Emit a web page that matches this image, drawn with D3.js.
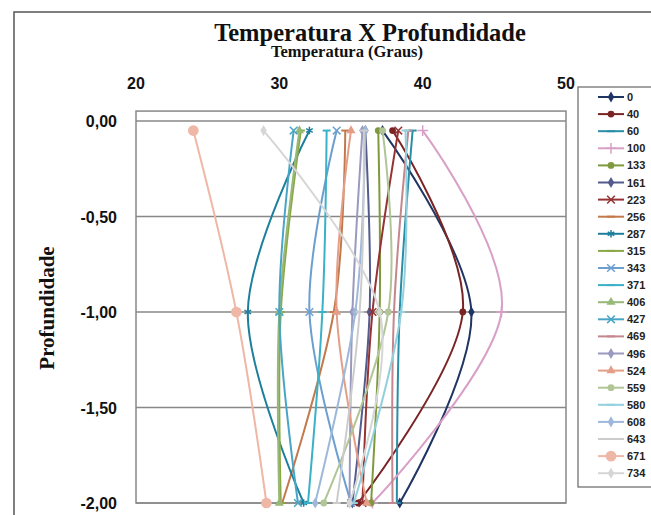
<!DOCTYPE html>
<meta charset='utf-8'>
<style>
  body { margin: 0; background: #fff; }
  .tick-lbl { font-family: "Liberation Sans", Arial, sans-serif; font-weight: bold; font-size: 16px; fill: #111; }
  .ttl { font-family: "Liberation Serif", "DejaVu Serif", serif; font-weight: bold; fill: #111; }
  .leg { font-family: "Liberation Sans", Arial, sans-serif; font-weight: bold; font-size: 11px; fill: #222; }
</style>
<svg width="651" height="515"></svg>
<script src="https://cdnjs.cloudflare.com/ajax/libs/d3/7.8.5/d3.min.js"></script>
<script>

// depth of the three readings (m)
var depths = [-0.05, -1.00, -2.00];

// series names (legend)
var names = ["0","40","60","100","133","161","223","256","287","315","343","371",
             "406","427","469","496","524","559","580","608","643","671","734"];

// temperature at each depth, per series
var temps = [
  [37.2, 43.4, 38.4],
  [37.9, 42.8, 35.5],
  [39.3, 38.4, 38.2],
  [40.0, 45.5, 36.5],
  [36.9, 37.0, 36.4],
  [36.0, 36.3, 35.1],
  [38.3, 36.5, 35.8],
  [34.6, 33.8, 30.2],
  [32.1, 27.8, 31.7],
  [31.5, 30.1, 30.1],
  [34.0, 32.1, 35.0],
  [33.3, 33.0, 32.0],
  [31.4, 30.0, 30.0],
  [31.0, 30.0, 31.3],
  [39.0, 38.0, 37.9],
  [35.8, 35.1, 34.9],
  [35.0, 34.0, 36.1],
  [37.2, 37.6, 33.1],
  [38.8, 38.5, 35.2],
  [36.0, 35.3, 32.5],
  [35.9, 35.6, 34.0],
  [24.0, 27.0, 29.1],
  [28.9, 37.0, 34.9]
];

var xTicks = [20, 30, 40, 50];
var yTicks = [0, -0.5, -1, -1.5, -2];

var colors = ["#1f3563","#7b2424","#2a8ea6","#d8a0c6","#7f9a3e","#535c8c","#963232","#c27a4c",
              "#1e7f9c","#8aa846","#6c9fcf","#39b1c7","#97b877","#49a5c6","#c4878d","#9a99bf",
              "#e49e88","#b1c596","#92d0de","#9db8da","#cccccc","#efb7a6","#d6d6d6"];
var markers = ["diamond","circle","dash","plus","circle","diamond","times","dash","asterisk","dash","times","dash",
               "triangle","times","dash","diamond","triangle","circle","dash","diamond","dash","bigcircle","diamond"];

var svg = d3.select("svg");

// chart frame
svg.append("rect").attr("x", 14).attr("y", 12).attr("width", 660).attr("height", 520)
  .attr("fill", "none").attr("stroke", "#555").attr("stroke-width", 1.5);

var x = d3.scaleLinear().domain([20, 50]).range([136, 566]);
var y = d3.scaleLinear().domain([-2, 0]).range([503, 121]);

// plot area
svg.append("rect").attr("x", x(20)).attr("y", y(0.052))
  .attr("width", x(50) - x(20)).attr("height", y(-2) - y(0.052))
  .attr("fill", "none").attr("stroke", "#888").attr("stroke-width", 1.5);

svg.append("g").selectAll("line").data(yTicks).enter().append("line")
  .attr("x1", x(20)).attr("x2", x(50))
  .attr("y1", d => y(d)).attr("y2", d => y(d))
  .attr("stroke", "#888").attr("stroke-width", 1.5);

// axes text
svg.append("g").selectAll("text").data(xTicks).enter().append("text")
  .attr("class", "tick-lbl").attr("x", d => x(d)).attr("y", 89)
  .attr("text-anchor", "middle").text(d => d);

svg.append("g").selectAll("text").data(yTicks).enter().append("text")
  .attr("class", "tick-lbl").attr("x", 117).attr("y", d => y(d) + 6)
  .attr("text-anchor", "end").text(d => d3.format(".2f")(d).replace(".", ",").replace("−", "-"));

svg.append("text").attr("class", "ttl").attr("x", 370).attr("y", 41)
  .attr("text-anchor", "middle").style("font-size", "24.5px").text("Temperatura X Profundidade");
svg.append("text").attr("class", "ttl").attr("x", 347).attr("y", 57)
  .attr("text-anchor", "middle").style("font-size", "16.5px").text("Temperatura (Graus)");
svg.append("text").attr("class", "ttl").attr("transform", "translate(54,308) rotate(-90)")
  .attr("text-anchor", "middle").style("font-size", "21px").text("Profundidade");

function marker(sel, type, col) {
  var sym = {diamond: d3.symbolDiamond, circle: d3.symbolCircle, triangle: d3.symbolTriangle,
             times: d3.symbolTimes, plus: d3.symbolPlus, asterisk: d3.symbolAsterisk, bigcircle: d3.symbolCircle};
  if (type === "dash") {
    sel.append("path").attr("d", "M-4,0H4").attr("stroke", col).attr("stroke-width", 2);
  } else if (type === "times" || type === "plus" || type === "asterisk") {
    sel.append("path").attr("d", d3.symbol(sym[type], 40)).attr("fill", "none").attr("stroke", col).attr("stroke-width", 1.5);
  } else {
    sel.append("path").attr("d", d3.symbol(sym[type], type === "bigcircle" ? 90 : 36)).attr("fill", col);
  }
}

var line = d3.line().x(d => x(d[0])).y(d => y(d[1])).curve(d3.curveCardinal.tension(0));

var gs = svg.append("g");
names.forEach(function(n, i) {
  var pts = temps[i].map((t, k) => [t, depths[k]]);
  gs.append("path").attr("d", line(pts)).attr("fill", "none")
    .attr("stroke", colors[i]).attr("stroke-width", 2);
  pts.forEach(function(p) {
    var m = gs.append("g").attr("transform", "translate(" + x(p[0]) + "," + y(p[1]) + ")");
    marker(m, markers[i], colors[i]);
  });
});

// legend
var leg = svg.append("g");
leg.append("rect").attr("x", 578).attr("y", 87).attr("width", 90).attr("height", 400)
  .attr("fill", "#fff").attr("stroke", "#666").attr("stroke-width", 1.2);
names.forEach(function(n, i) {
  var ly = 97 + i * 17.1;
  leg.append("line").attr("x1", 598).attr("x2", 624).attr("y1", ly).attr("y2", ly)
    .attr("stroke", colors[i]).attr("stroke-width", 2);
  var m = leg.append("g").attr("transform", "translate(611," + ly + ")");
  marker(m, markers[i], colors[i]);
  leg.append("text").attr("class", "leg").attr("x", 627).attr("y", ly + 4).text(n);
});

</script>
